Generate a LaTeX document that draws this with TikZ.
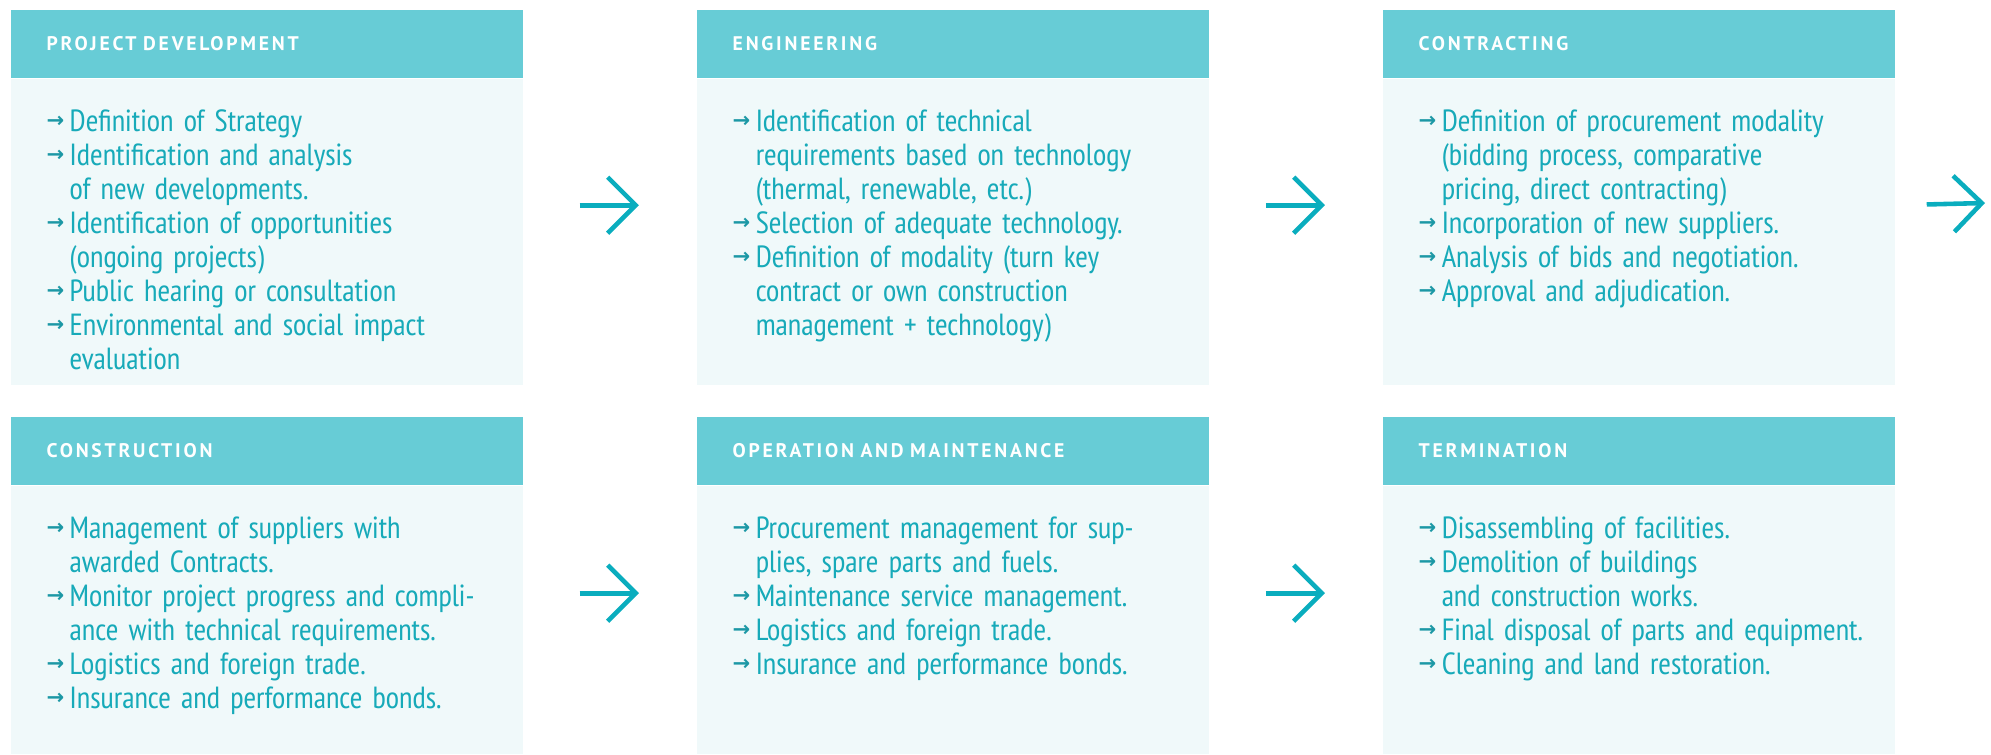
\documentclass[tikz,border=0pt]{standalone}
\usepackage{fontspec}
\setmainfont{PT Sans Narrow}
\newfontfamily\headfont{PT Sans}[LetterSpace=14,WordSpace=2.6]
\newfontfamily\symfont{DejaVu Sans}
\usetikzlibrary{arrows.meta,positioning}
\definecolor{headfill}{HTML}{67CCD6}
\definecolor{bodyfill}{HTML}{F0F9FA}
\definecolor{tealtext}{HTML}{17AAB9}
\definecolor{tealdark}{HTML}{1C98A5}
\definecolor{tealarrow}{HTML}{0AADBE}
\newcommand{\bul}{{\color{tealdark}\symfont\bfseries\fontsize{6}{6}\selectfont\raisebox{0.3ex}{→}}}
\newcommand{\itm}[1]{\par\hangindent=0.23cm\hangafter=1\noindent\makebox[0.23cm][l]{\bul}#1}
\tikzset{
  headbox/.style={fill=headfill,anchor=north west,minimum height=0.68cm,text width=4.40cm,inner xsep=0.36cm,inner ysep=0pt,align=left,text=white,font=\headfont\bfseries\fontsize{5.6}{6}\selectfont},
  bodybox/.style={fill=bodyfill,minimum width=5.12cm,inner sep=0pt},
  listtext/.style={anchor=north west,text width=4.7cm,inner sep=0pt,text=tealtext,font=\raggedright\fontsize{8.7}{9.67}\selectfont},
  flow/.style={-{Straight Barb[length=0.28cm,width=0.56cm]},line width=1.3pt,draw=tealarrow}
}
\begin{document}
\begin{tikzpicture}[x=0.01cm,y=-0.01cm]
  \useasboundingbox (0,0) rectangle (1991,754);

  % first row
  \node[headbox] (pd) at (10,9) {PROJECT DEVELOPMENT};
  \node[bodybox,below=0pt of pd,minimum height=3.06cm] (pd-b) {};
  \node[listtext] (pd-l) at ([xshift=0.36cm,yshift=-0.18cm]pd-b.north west) {%
    \itm{Definition of Strategy}
    \itm{Identification and analysis\newline of new developments.}
    \itm{Identification of opportunities\newline (ongoing projects)}
    \itm{Public hearing or consultation}
    \itm{Environmental and social impact\newline evaluation}\par};

  \node[headbox] (en) at (696,9) {ENGINEERING};
  \node[bodybox,below=0pt of en,minimum height=3.06cm] (en-b) {};
  \node[listtext] (en-l) at ([xshift=0.36cm,yshift=-0.18cm]en-b.north west) {%
    \itm{Identification of technical\newline requirements based on technology\newline (thermal, renewable, etc.)}
    \itm{Selection of adequate technology.}
    \itm{Definition of modality (turn key\newline contract or own construction\newline management + technology)}\par};

  \node[headbox] (co) at (1382,9) {CONTRACTING};
  \node[bodybox,below=0pt of co,minimum height=3.06cm] (co-b) {};
  \node[listtext] (co-l) at ([xshift=0.36cm,yshift=-0.18cm]co-b.north west) {%
    \itm{Definition of procurement modality\newline (bidding process, comparative\newline pricing, direct contracting)}
    \itm{Incorporation of new suppliers.}
    \itm{Analysis of bids and negotiation.}
    \itm{Approval and adjudication.}\par};

  % second row
  \node[headbox] (cn) at (10,416) {CONSTRUCTION};
  \node[bodybox,below=0pt of cn,minimum height=2.68cm] (cn-b) {};
  \node[listtext] (cn-l) at ([xshift=0.36cm,yshift=-0.18cm]cn-b.north west) {%
    \itm{Management of suppliers with\newline awarded Contracts.}
    \itm{Monitor project progress and compli-\newline ance with technical requirements.}
    \itm{Logistics and foreign trade.}
    \itm{Insurance and performance bonds.}\par};

  \node[headbox] (om) at (696,416) {OPERATION AND MAINTENANCE};
  \node[bodybox,below=0pt of om,minimum height=2.68cm] (om-b) {};
  \node[listtext] (om-l) at ([xshift=0.36cm,yshift=-0.18cm]om-b.north west) {%
    \itm{Procurement management for sup-\newline plies, spare parts and fuels.}
    \itm{Maintenance service management.}
    \itm{Logistics and foreign trade.}
    \itm{Insurance and performance bonds.}\par};

  \node[headbox] (te) at (1382,416) {TERMINATION};
  \node[bodybox,below=0pt of te,minimum height=2.68cm] (te-b) {};
  \node[listtext] (te-l) at ([xshift=0.36cm,yshift=-0.18cm]te-b.north west) {%
    \itm{Disassembling of facilities.}
    \itm{Demolition of buildings\newline and construction works.}
    \itm{Final disposal of parts and equipment.}
    \itm{Cleaning and land restoration.}\par};

  % arrows between the stages
  \foreach \a/\b in {pd/en,en/co,cn/om,om/te}
    \draw[flow,shorten <=0.56cm,shorten >=0.57cm] ([yshift=0.27cm]\a-b.east) -- ([yshift=0.27cm]\b-b.west);
  \coordinate (exit) at (1985,203);
  \draw[flow,shorten <=0.31cm] ([yshift=0.27cm]co-b.east) -- (exit);
\end{tikzpicture}
\end{document}
